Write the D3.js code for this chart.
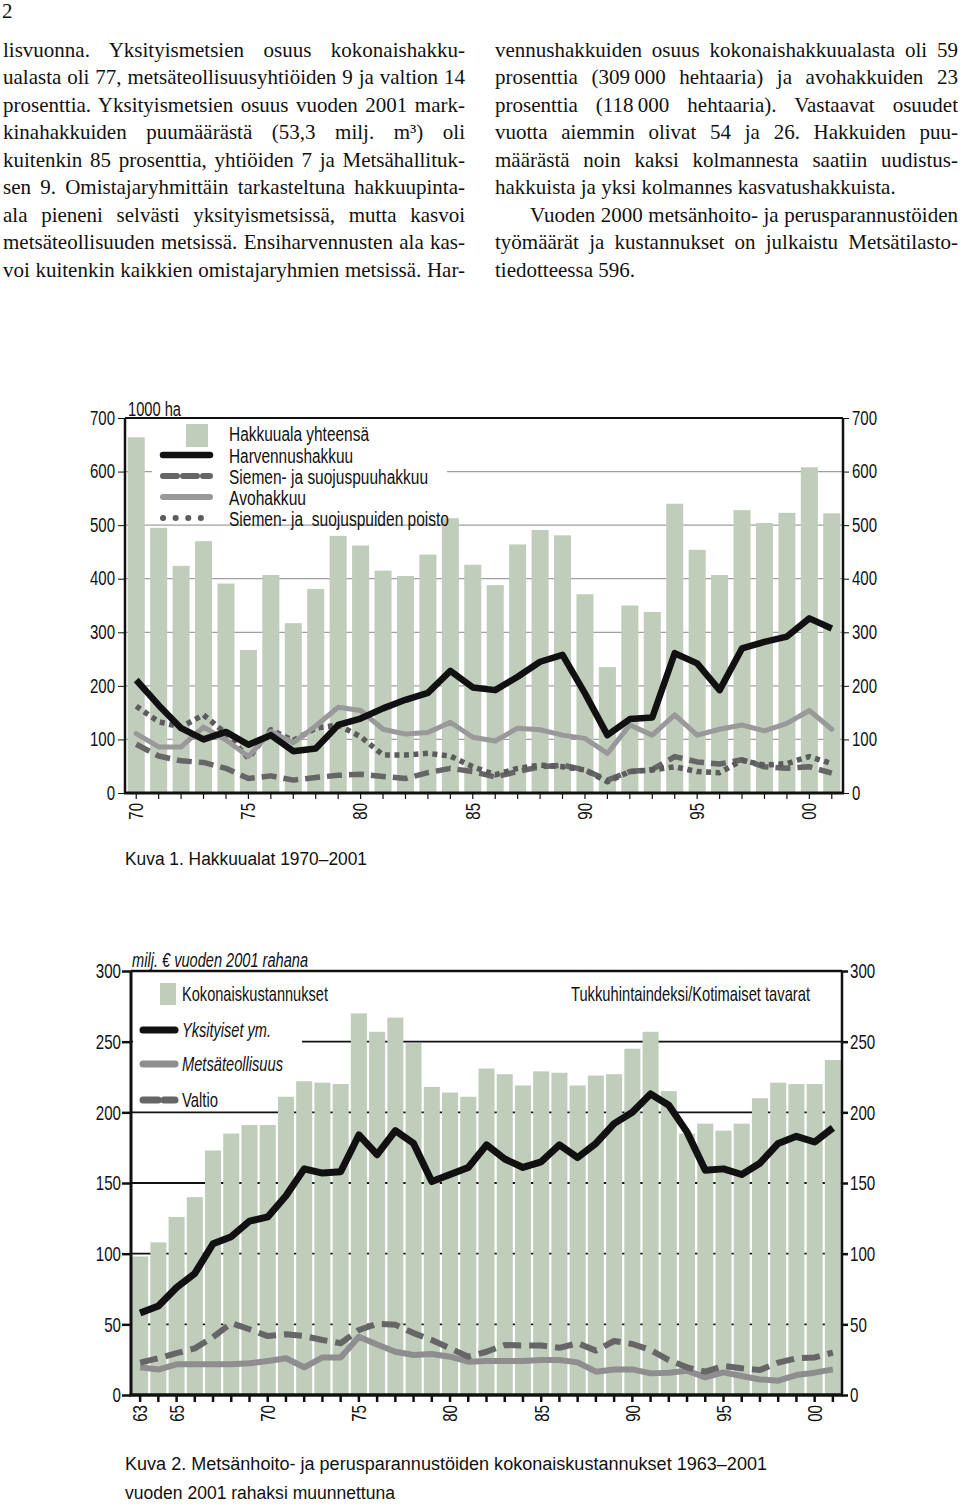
<!DOCTYPE html>
<html><head><meta charset="utf-8">
<script src="https://cdn.jsdelivr.net/npm/d3@7"></script>
<style>body{margin:0;background:#fff}svg{display:block}</style>
</head><body>
<svg id="page" width="960" height="1509"></svg>
<script>
// ---------- DATA: Kuva 1 ----------
const years1 = [1970,1971,1972,1973,1974,1975,1976,1977,1978,1979,1980,1981,1982,1983,1984,1985,1986,1987,1988,1989,1990,1991,1992,1993,1994,1995,1996,1997,1998,1999,2000,2001];
const hakkuuala = [664,495,424,470,391,267,407,317,381,480,462,415,405,445,513,426,388,464,491,481,371,235,350,338,540,454,407,528,504,523,608,522];
const harvennus = [211,164,121,100,114,90,108,78,83,127,139,158,174,187,228,197,192,217,245,258,186,108,138,141,261,242,192,270,282,292,326,307];
const siemenHakkuu = [91,69,60,57,46,27,32,24,29,33,35,31,27,38,46,40,30,40,49,52,43,24,40,44,68,58,54,62,49,46,49,37];
const avohakkuu = [111,86,86,123,99,68,115,94,125,160,154,119,110,113,132,104,97,121,118,108,102,74,127,108,146,108,119,127,116,130,154,119];
const poisto = [162,133,123,146,111,65,118,98,121,127,105,71,71,74,69,49,34,46,52,49,43,21,40,43,49,40,38,61,52,55,68,55];
const yTicks1 = [0,100,200,300,400,500,600,700];
const gridVals1 = [100,200,300,400,500,600];
const xLabelYears1 = [1970,1975,1980,1985,1990,1995,2000];
const xLabels1 = ["70","75","80","85","90","95","00"];
const legend1 = ["Hakkuuala yhteensä","Harvennushakkuu","Siemen- ja suojuspuuhakkuu","Avohakkuu","Siemen- ja  suojuspuiden poisto"];

// ---------- DATA: Kuva 2 ----------
const years2 = [1963,1964,1965,1966,1967,1968,1969,1970,1971,1972,1973,1974,1975,1976,1977,1978,1979,1980,1981,1982,1983,1984,1985,1986,1987,1988,1989,1990,1991,1992,1993,1994,1995,1996,1997,1998,1999,2000,2001];
const kokonais = [98,108,126,140,173,185,191,191,211,222,221,220,270,257,267,249,218,214,211,231,227,219,229,228,219,226,227,245,257,215,185,192,187,192,210,221,220,220,237];
const yksityiset = [58,63,76,86,107,112,123,126,141,160,157,158,184,170,187,178,151,156,161,177,167,161,165,177,168,178,192,200,213,205,186,159,160,156,164,178,183,179,189];
const metsateollisuus = [19.6,18,21.7,21.7,21.7,21.7,22.4,24.1,26,19.6,26.6,26.6,41.2,35.8,30.6,28.3,29,27.1,23.6,24.1,24.1,24,24.8,24.8,23.1,16.5,18.1,18.1,15.3,15.8,17.2,12.5,16,13.4,11,10.1,14.1,15.8,18.1];
const valtio = [22.9,26,29.6,33,41,50.9,46.5,41.7,43,41.7,38.9,36.6,46,50.4,49.7,43.8,38.9,33,27.1,30.6,35.4,35,35,33.4,36.6,31.4,38.2,36.1,31.8,24.7,19.6,16.5,20.5,18.9,17.7,22.9,26,26.6,30];
const yTicks2 = [0,50,100,150,200,250,300];
const gridVals2 = [50,100,150,200,250];
const xLabelYears2 = [1963,1965,1970,1975,1980,1985,1990,1995,2000];
const xLabels2 = ["63","65","70","75","80","85","90","95","00"];
const legend2 = ["Kokonaiskustannukset","Yksityiset ym.","Metsäteollisuus","Valtio"];

// ---------- TEXT ----------
const leftLines = [
 "lisvuonna. Yksityismetsien osuus kokonaishakku-",
 "ualasta oli 77, metsäteollisuusyhtiöiden 9 ja valtion 14",
 "prosenttia. Yksityismetsien osuus vuoden 2001 mark-",
 "kinahakkuiden puumäärästä (53,3 milj. m³) oli",
 "kuitenkin 85 prosenttia, yhtiöiden 7 ja Metsähallituk-",
 "sen 9. Omistajaryhmittäin tarkasteltuna hakkuupinta-",
 "ala pieneni selvästi yksityismetsissä, mutta kasvoi",
 "metsäteollisuuden metsissä. Ensiharvennusten ala kas-",
 "voi kuitenkin kaikkien omistajaryhmien metsissä. Har-"
];
const rightLines = [
 {t:"vennushakkuiden osuus kokonaishakkuualasta oli 59", j:true},
 {t:"prosenttia (309\u2009000 hehtaaria) ja avohakkuiden 23", j:true},
 {t:"prosenttia (118\u2009000 hehtaaria). Vastaavat osuudet", j:true},
 {t:"vuotta aiemmin olivat 54 ja 26. Hakkuiden puu-", j:true},
 {t:"määrästä noin kaksi kolmannesta saatiin uudistus-", j:true},
 {t:"hakkuista ja yksi kolmannes kasvatushakkuista.", j:false},
 {t:"Vuoden 2000 metsänhoito- ja perusparannustöiden", j:true, indent:35},
 {t:"työmäärät ja kustannukset on julkaistu Metsätilasto-", j:true},
 {t:"tiedotteessa 596.", j:false}
];

const SANS = '"Liberation Sans",Arial,sans-serif';
const SERIF = '"Liberation Serif","Times New Roman",serif';
const BAR = "#bfcdba";
const svg = d3.select("#page");

// squeeze Arial-metric text to an Arial-Narrow look
function narrow(sel, k, w){
  sel.each(function(){
    const n = this.getComputedTextLength();
    if(n>0){ d3.select(this).attr("textLength", w ? w : n*k).attr("lengthAdjust","spacingAndGlyphs"); }
  });
}
function label(g, x, y, txt, size, w, opts){
  opts = opts||{};
  const t = g.append("text").attr("x",x).attr("y",y).attr("font-family",SANS).attr("font-size",size)
    .attr("fill","#111").style("white-space","pre").text(txt);
  if(opts.italic) t.attr("font-style","italic");
  if(opts.dy) t.attr("dy",opts.dy);
  if(w) narrow(t, 0.82, w);
  return t;
}

// ---------- Body text ----------
svg.append("text").attr("x",2).attr("y",18).attr("font-family",SERIF).attr("font-size",21).attr("fill","#111").text("2");
function textBlock(lines, x0, width, y0, lh){
  lines.forEach((l,i)=>{
    const o = typeof l === "string" ? {t:l, j:true} : l;
    const ind = o.indent||0;
    const t = svg.append("text").attr("x",x0+ind).attr("y",y0+i*lh)
      .attr("font-family",SERIF).attr("font-size",21).attr("fill","#111")
      .style("white-space","pre").text(o.t);
    if(o.j){
      const w = t.node().getComputedTextLength();
      const n = (o.t.match(/ /g)||[]).length;
      if(n>0) t.style("word-spacing", ((width-ind)-w)/n + "px");
    }
  });
}
textBlock(leftLines, 3, 462, 56.5, 27.5);
textBlock(rightLines, 495, 463, 56.5, 27.5);

// ---------- Kuva 1 ----------
(function(){
  const L=125,R=843,T=418,B=793;
  const x = d3.scaleBand().domain(years1).range([L,R]).paddingInner(0.24).paddingOuter(0.12);
  const y = d3.scaleLinear().domain([0,700]).range([B,T]);
  const g = svg.append("g");
  g.selectAll("line.grid").data(gridVals1).join("line")
    .attr("x1",L).attr("x2",R).attr("y1",d=>y(d)).attr("y2",d=>y(d))
    .attr("stroke","#a0a0a0").attr("stroke-width",1.3);
  g.append("rect").attr("x",152).attr("y",420).attr("width",295).attr("height",88).attr("fill","#fff");
  g.selectAll("rect.bar").data(years1).join("rect")
    .attr("x",d=>x(d)).attr("width",x.bandwidth())
    .attr("y",(d,i)=>y(hakkuuala[i])).attr("height",(d,i)=>y(0)-y(hakkuuala[i]))
    .attr("fill",BAR);
  const cx = d=>x(d)+x.bandwidth()/2;
  const line = d3.line().x((d,i)=>cx(years1[i])).y(d=>y(d));
  const series = [
    {v:siemenHakkuu, c:"#666", w:5.5, dash:"15 7", cap:"butt"},
    {v:poisto, c:"#5c5c5c", w:5.5, dash:"5 4.5", cap:"butt"},
    {v:avohakkuu, c:"#999", w:5, dash:null, cap:"round"},
    {v:harvennus, c:"#111", w:6.5, dash:null, cap:"butt"}
  ];
  series.forEach(s=>{
    g.append("path").attr("d",line(s.v)).attr("fill","none").attr("stroke",s.c)
      .attr("stroke-width",s.w).attr("stroke-dasharray",s.dash).attr("stroke-linejoin","round").attr("stroke-linecap",s.cap);
  });
  g.append("line").attr("x1",L).attr("x2",R).attr("y1",T).attr("y2",T).attr("stroke","#111").attr("stroke-width",2);
  const styleAxis = (sel)=>{ sel.select(".domain").remove();
    sel.selectAll("text").attr("font-family",SANS).attr("font-size",19.5).attr("fill","#111");
    sel.selectAll("line").attr("stroke","#111"); };
  const al = g.append("g").attr("transform",`translate(${L},0)`).call(d3.axisLeft(y).tickValues(yTicks1).tickSize(7).tickPadding(3)).call(styleAxis);
  const ar = g.append("g").attr("transform",`translate(${R},0)`).call(d3.axisRight(y).tickValues(yTicks1).tickSize(6).tickPadding(3)).call(styleAxis);
  const xa = g.append("g").attr("transform",`translate(0,${B})`)
    .call(d3.axisBottom(x).tickSize(6).tickFormat(d=>{const k=xLabelYears1.indexOf(d);return k<0?"":xLabels1[k];}))
    .call(styleAxis);
  xa.selectAll("line").attr("stroke-width",1.2);
  xa.selectAll("text").attr("transform","rotate(-90)").attr("x",-10).attr("y",0).attr("dy","0.35em").attr("text-anchor","end");
  [al,ar,xa].forEach(a=>narrow(a.selectAll("text"),0.77));
  g.append("line").attr("x1",L).attr("x2",L).attr("y1",T).attr("y2",B).attr("stroke","#111").attr("stroke-width",2.5);
  g.append("line").attr("x1",R).attr("x2",R).attr("y1",T).attr("y2",B).attr("stroke","#111").attr("stroke-width",2.5);
  g.append("line").attr("x1",L-1).attr("x2",R+1).attr("y1",B).attr("y2",B).attr("stroke","#111").attr("stroke-width",3);
  label(g,128,416,"1000 ha",19.5,53);
  // legend
  const ly=[434,456,477,498,519];
  const lw=[140,124,199,77,220];
  g.append("rect").attr("x",186).attr("y",424).attr("width",22).attr("height",23).attr("fill",BAR);
  const lg = [
    {c:"#111",w:6.5,dash:null},
    {c:"#666",w:6,dash:"14 6"},
    {c:"#999",w:6,dash:null},
    {c:"#5c5c5c",w:6,dash:"0.1 12.5"}
  ];
  lg.forEach((s,i)=>{
    g.append("line").attr("x1",163).attr("x2",210).attr("y1",ly[i+1]-1).attr("y2",ly[i+1]-1)
      .attr("stroke",s.c).attr("stroke-width",s.w).attr("stroke-dasharray",s.dash).attr("stroke-linecap","round");
  });
  legend1.forEach((t,i)=>{ label(g,229,ly[i],t,20,lw[i],{dy:"0.35em"}); });
  label(g,125,865,"Kuva 1. Hakkuualat 1970–2001",18,242);
})();

// ---------- Kuva 2 ----------
(function(){
  const L=131,R=842,T=971,B=1395;
  const x = d3.scaleBand().domain(years2).range([L,R]).paddingInner(0.12).paddingOuter(0.06);
  const y = d3.scaleLinear().domain([0,300]).range([B,T]);
  const g = svg.append("g");
  g.selectAll("line.grid").data(gridVals2).join("line")
    .attr("x1",L).attr("x2",R).attr("y1",d=>y(d)).attr("y2",d=>y(d))
    .attr("stroke","#111").attr("stroke-width",1.8);
  g.append("rect").attr("x",133).attr("y",973).attr("width",169).attr("height",135).attr("fill","#fff");
  g.selectAll("rect.bar").data(years2).join("rect")
    .attr("x",d=>x(d)).attr("width",x.bandwidth())
    .attr("y",(d,i)=>y(kokonais[i])).attr("height",(d,i)=>y(0)-y(kokonais[i]))
    .attr("fill",BAR);
  const cx = d=>x(d)+x.bandwidth()/2;
  const line = d3.line().x((d,i)=>cx(years2[i])).y(d=>y(d));
  const series = [
    {v:metsateollisuus, c:"#8e8e8e", w:6, dash:null},
    {v:valtio, c:"#666", w:6, dash:"18 8"},
    {v:yksityiset, c:"#111", w:7, dash:null}
  ];
  series.forEach(s=>{
    g.append("path").attr("d",line(s.v)).attr("fill","none").attr("stroke",s.c)
      .attr("stroke-width",s.w).attr("stroke-dasharray",s.dash).attr("stroke-linejoin","round");
  });
  g.append("line").attr("x1",L).attr("x2",R).attr("y1",T).attr("y2",T).attr("stroke","#111").attr("stroke-width",2.5);
  const styleAxis = (sel)=>{ sel.select(".domain").remove();
    sel.selectAll("text").attr("font-family",SANS).attr("font-size",21).attr("fill","#111");
    sel.selectAll("line").attr("stroke","#111").attr("stroke-width",2.5); };
  const al = g.append("g").attr("transform",`translate(${L},0)`).call(d3.axisLeft(y).tickValues(yTicks2).tickSize(9).tickPadding(1)).call(styleAxis);
  const ar = g.append("g").attr("transform",`translate(${R},0)`).call(d3.axisRight(y).tickValues(yTicks2).tickSize(6).tickPadding(2)).call(styleAxis);
  const xa = g.append("g").attr("transform",`translate(0,${B})`)
    .call(d3.axisBottom(x).tickSize(7).tickFormat(d=>{const k=xLabelYears2.indexOf(d);return k<0?"":xLabels2[k];}))
    .call(styleAxis);
  xa.selectAll("text").attr("transform","rotate(-90)").attr("x",-10).attr("y",0).attr("dy","0.35em").attr("text-anchor","end");
  [al,ar,xa].forEach(a=>narrow(a.selectAll("text"),0.72));
  g.append("line").attr("x1",L).attr("x2",L).attr("y1",T).attr("y2",B).attr("stroke","#111").attr("stroke-width",3);
  g.append("line").attr("x1",R).attr("x2",R).attr("y1",T).attr("y2",B).attr("stroke","#111").attr("stroke-width",2.5);
  g.append("line").attr("x1",L-1.5).attr("x2",R+1).attr("y1",B).attr("y2",B).attr("stroke","#111").attr("stroke-width",3.5);
  label(g,132,967,"milj. € vuoden 2001 rahana",20,176,{italic:true});
  label(g,571,1001,"Tukkuhintaindeksi/Kotimaiset tavarat",21,239);
  // legend
  g.append("rect").attr("x",160).attr("y",983).attr("width",16).attr("height",22).attr("fill",BAR);
  const ly=[994,1030,1064,1100];
  const lw=[146,89,101,36];
  const lg=[{c:"#111",w:7,dash:null},{c:"#8e8e8e",w:7,dash:null},{c:"#666",w:7,dash:"15 6"}];
  lg.forEach((s,i)=>{
    g.append("line").attr("x1",143).attr("x2",175).attr("y1",ly[i+1]).attr("y2",ly[i+1])
      .attr("stroke",s.c).attr("stroke-width",s.w).attr("stroke-dasharray",s.dash).attr("stroke-linecap","round");
  });
  legend2.forEach((t,i)=>{ label(g,182,ly[i],t,21,lw[i],{dy:"0.35em", italic:(i===1||i===2)}); });
  label(g,125,1470,"Kuva 2. Metsänhoito- ja perusparannustöiden kokonaiskustannukset 1963–2001",18,642);
  label(g,125,1499,"vuoden 2001 rahaksi muunnettuna",18,270);
})();
</script>
</body></html>
